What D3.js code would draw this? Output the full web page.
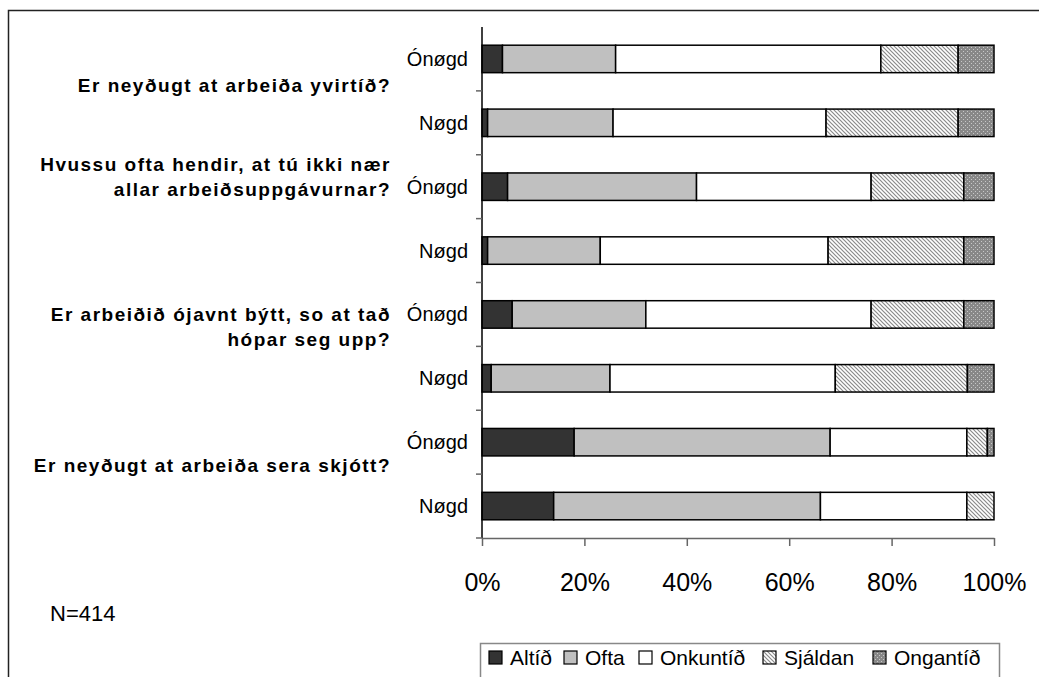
<!DOCTYPE html>
<html>
<head>
<meta charset="utf-8">
<script src="https://cdn.jsdelivr.net/npm/d3@7"></script>
<style>
  html, body { margin: 0; padding: 0; background: #fff; }
  svg { display: block; font-family: "Liberation Sans", Arial, sans-serif; }
</style>
</head>
<body>
<svg id="chart" width="1039" height="677"></svg>
<script>
// ---- data ----
const rows = ["Q1-Ónøgd", "Q1-Nøgd", "Q2-Ónøgd", "Q2-Nøgd", "Q3-Ónøgd", "Q3-Nøgd", "Q4-Ónøgd", "Q4-Nøgd"];
const rowLabels = ["Ónøgd", "Nøgd", "Ónøgd", "Nøgd", "Ónøgd", "Nøgd", "Ónøgd", "Nøgd"];
const seriesNames = ["Altíð", "Ofta", "Onkuntíð", "Sjáldan", "Ongantíð"];
const altid    = [4.0, 1.1, 5.0, 1.1, 5.9, 1.8, 18.0, 14.0];
const ofta     = [22.1, 24.5, 36.9, 22.0, 26.1, 23.2, 50.0, 52.1];
const onkuntid = [51.8, 41.6, 34.1, 44.5, 44.0, 44.0, 26.7, 28.6];
const sjaldan  = [15.1, 25.8, 18.1, 26.5, 18.1, 25.8, 4.0, 5.3];
const ongantid = [7.0, 7.0, 5.9, 5.9, 5.9, 5.2, 1.3, 0.0];
const questions = [
  ["Er neyðugt at arbeiða yvirtíð?"],
  ["Hvussu ofta hendir, at tú ikki nær", "allar arbeiðsuppgávurnar?"],
  ["Er arbeiðið ójavnt býtt, so at tað", "hópar seg upp?"],
  ["Er neyðugt at arbeiða sera skjótt?"]
];
const tickValues = [0, 0.2, 0.4, 0.6, 0.8, 1.0];
const note = "N=414";

// ---- setup ----
const svg = d3.select("#chart");
const defs = svg.append("defs");

// hatch pattern for Sjáldan
const hatch = defs.append("pattern").attr("id", "hatch").attr("patternUnits", "userSpaceOnUse")
  .attr("width", 4).attr("height", 4);
hatch.append("rect").attr("width", 4).attr("height", 4).attr("fill", "#fff");
hatch.append("path").attr("d", "M-1,-1 L5,5 M-1,3 L1,5 M3,-1 L5,1")
  .attr("stroke", "#8a8a8a").attr("stroke-width", 1.2);

// dotted pattern for Ongantíð
const dots = defs.append("pattern").attr("id", "dots").attr("patternUnits", "userSpaceOnUse")
  .attr("width", 4).attr("height", 4);
dots.append("rect").attr("width", 4).attr("height", 4).attr("fill", "#888888");
dots.append("rect").attr("x", 1).attr("y", 1).attr("width", 1).attr("height", 1).attr("fill", "#c8c8c8");
dots.append("rect").attr("x", 3).attr("y", 3).attr("width", 1).attr("height", 1).attr("fill", "#c8c8c8");

const fills = ["#333333", "#c0c0c0", "#ffffff", "url(#hatch)", "url(#dots)"];
const color = d3.scaleOrdinal().domain(seriesNames).range(fills);

// outer frame
svg.append("rect").attr("x", 8.5).attr("y", 10.5).attr("width", 1100).attr("height", 800)
  .attr("fill", "none").attr("stroke", "#222").attr("stroke-width", 1.5);

const x = d3.scaleLinear().domain([0, 1]).range([482, 994]);
const y = d3.scaleBand().domain(rows).range([27, 538]).paddingInner(0.57).paddingOuter(0.285);

const table = rows.map((r, i) => ({
  row: r,
  "Altíð": altid[i], "Ofta": ofta[i], "Onkuntíð": onkuntid[i], "Sjáldan": sjaldan[i], "Ongantíð": ongantid[i]
}));
// normalize to 100%
table.forEach(d => {
  const t = d3.sum(seriesNames, k => d[k]);
  seriesNames.forEach(k => d[k] = d[k] / t);
});
const stacked = d3.stack().keys(seriesNames)(table);

// bars
const g = svg.append("g");
stacked.forEach(layer => {
  g.selectAll(null).data(layer.filter(d => d[1] - d[0] > 0)).enter().append("rect")
    .attr("x", d => x(d[0]))
    .attr("y", d => y(d.data.row))
    .attr("width", d => x(d[1]) - x(d[0]))
    .attr("height", y.bandwidth())
    .attr("fill", color(layer.key))
    .attr("stroke", "#000")
    .attr("stroke-width", 1.5);
});

// y axis (ticks at band boundaries)
const step = y.step();
const bounds = rows.map((r, i) => 27 + step * (i + 1));
svg.append("line").attr("x1", 482).attr("x2", 482).attr("y1", 27).attr("y2", 538)
  .attr("stroke", "#000").attr("stroke-width", 1.5);
svg.selectAll(".ytick").data(bounds).enter().append("line")
  .attr("x1", 476).attr("x2", 482).attr("y1", d => d).attr("y2", d => d)
  .attr("stroke", "#666").attr("stroke-width", 1.5);

// x axis
const xAxis = d3.axisBottom(x).tickValues(tickValues).tickFormat(d3.format(".0%")).tickSize(8).tickSizeOuter(0);
const xa = svg.append("g").attr("transform", "translate(0,538)").call(xAxis);
xa.select(".domain").attr("stroke", "#666").attr("stroke-width", 1.5);
xa.selectAll(".tick line").attr("stroke", "#666").attr("stroke-width", 1.5);
xa.selectAll(".tick text").attr("font-size", 25).attr("font-family", "Liberation Sans, Arial, sans-serif")
  .attr("fill", "#000").attr("dy", 0).attr("y", 53);

// row labels
svg.selectAll(".rowlab").data(rows).enter().append("text")
  .attr("x", 468).attr("y", d => y(d) + y.bandwidth() / 2)
  .attr("dy", "0.35em").attr("text-anchor", "end")
  .attr("font-size", 20).text((d, i) => rowLabels[i]);

// question labels
const qY = [85, 164, 314, 465];
questions.forEach((lines, qi) => {
  const t = svg.append("text").attr("text-anchor", "end").attr("font-weight", "bold")
    .attr("font-size", 19).attr("letter-spacing", 1.5);
  lines.forEach((ln, li) => {
    t.append("tspan").attr("x", 391).attr("y", qY[qi] + li * 25).attr("dy", "0.35em").text(ln);
  });
});

// note
svg.append("text").attr("x", 50).attr("y", 613).attr("dy", "0.35em").attr("font-size", 22).text(note);

// legend
const lg = svg.append("g");
lg.append("rect").attr("x", 480.5).attr("y", 643.5).attr("width", 519).attr("height", 60)
  .attr("fill", "#fff").attr("stroke", "#888").attr("stroke-width", 1.5);
const legX = [489, 564, 639, 763, 873];
seriesNames.forEach((s, i) => {
  lg.append("rect").attr("x", legX[i]).attr("y", 651).attr("width", 13).attr("height", 13)
    .attr("fill", color(s)).attr("stroke", "#000").attr("stroke-width", 1.2);
  lg.append("text").attr("x", legX[i] + 21).attr("y", 658).attr("dy", "0.35em")
    .attr("font-size", 21).text(s);
});
</script>
</body>
</html>
